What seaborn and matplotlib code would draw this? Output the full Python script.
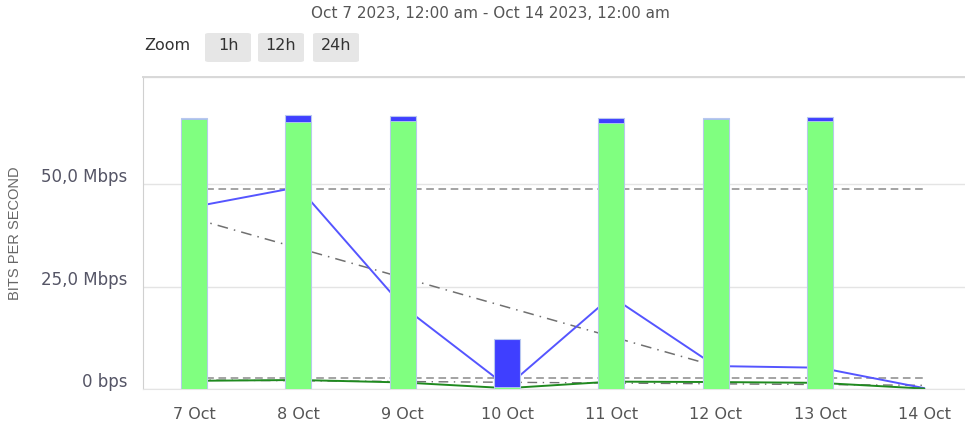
import numpy as np
import pandas as pd
import matplotlib
matplotlib.use('Agg')
import matplotlib.pyplot as plt
import seaborn as sns
from matplotlib.patches import FancyBboxPatch
from matplotlib.transforms import ScaledTranslation

# values in Mbps, one entry per day
days = ['7 Oct', '8 Oct', '9 Oct', '10 Oct', '11 Oct', '12 Oct', '13 Oct', '14 Oct']
bar_green = [66.0, 65.1, 65.4, 0.4, 64.9, 66.0, 65.4, np.nan]
bar_blue = [0.3, 1.7, 1.2, 11.8, 1.4, 0.1, 1.1, np.nan]
line_blue = [44.5, 49.3, 20.2, 0.6, 22.6, 5.6, 5.2, 0.2]
line_green = [2.0, 2.2, 1.6, 0.2, 1.8, 1.7, 1.5, 0.1]
pct_blue = [48.8, 48.8]
pct_green = [2.7, 2.7]
trend_blue_days = [0, 5]
trend_blue = [41.6, 5.6]
trend_green = [2.2, 0.9]
y_ticks = [0, 25, 50]
y_tick_labels = ['0 bps', '25,0 Mbps', '50,0 Mbps']

GREEN = '#80ff80'
BLUE = '#3f3fff'
LINE_BLUE = '#5555ff'
LINE_GREEN = '#1f8a1f'
EDGE = '#b8c8f0'

sns.set_style('white')
plt.rcParams['font.family'] = ['DejaVu Sans']

df = pd.DataFrame({'day': days, 'green': bar_green, 'blue': bar_blue})
df['total'] = df['green'] + df['blue']
pos = np.arange(len(days))
ends = pos[[0, -1]]

fig = plt.figure(figsize=(9.65, 4.26), dpi=100)
ax = fig.add_axes([143 / 965, 37 / 426, 822 / 965, 312 / 426])

# lines sit behind the bars
sns.lineplot(x=ends, y=pct_blue, ax=ax, color='#8a8a8a', lw=1.1, ls=(0, (5, 3)), zorder=1)
sns.lineplot(x=trend_blue_days, y=trend_blue, ax=ax, color='#707070', lw=1.1,
             ls=(0, (7, 4, 1, 4)), zorder=1)
sns.lineplot(x=pos, y=line_blue, ax=ax, color=LINE_BLUE, lw=1.4, zorder=2)
sns.lineplot(x=ends, y=pct_green, ax=ax, color='#8a8a8a', lw=1.1, ls=(0, (5, 3)), zorder=1)
sns.lineplot(x=ends, y=trend_green, ax=ax, color='#707070', lw=1.0, ls=(0, (7, 4, 1, 4)), zorder=1)
sns.lineplot(x=pos, y=line_green, ax=ax, color=LINE_GREEN, lw=1.4, zorder=2)

sns.barplot(data=df, x='day', y='total', order=days, color=BLUE, saturation=1,
            width=0.25, edgecolor=EDGE, linewidth=0.8, ax=ax, zorder=3)
sns.barplot(data=df, x='day', y='green', order=days, color=GREEN, saturation=1,
            width=0.25, edgecolor=EDGE, linewidth=0.6, ax=ax, zorder=4)

ax.set_xlim(-0.49, 7.39)
ax.set_ylim(0, 76.2)
ax.set_yticks(y_ticks + [76.2])
ax.set_yticklabels(y_tick_labels + [''])
ax.grid(axis='y', color='#e4e4e4', lw=1.0)
ax.grid(axis='x', visible=False)
ax.set_axisbelow(True)
ax.tick_params(axis='y', length=11.5, width=1.0, color='#d8d8d8', pad=0,
               labelsize=12, labelcolor='#555566')
ax.tick_params(axis='x', length=0, pad=13, labelsize=11.5, labelcolor='#555555')
shift = ScaledTranslation(0, 0.09, fig.dpi_scale_trans)
for lab in ax.get_yticklabels():
    lab.set_transform(lab.get_transform() + shift)

ax.spines['right'].set_visible(False)
ax.spines['left'].set_color('#d0d0d0')
ax.spines['top'].set_color('#d8d8d8')
ax.spines['top'].set_linewidth(1.4)
ax.spines['bottom'].set_color('#e4e4e4')

ax.set_xlabel('')
ax.set_ylabel('BITS PER SECOND', fontsize=10.5, color='#666666', family='Liberation Sans')
ax.yaxis.set_label_coords(-121 / 822, 0.5)

fig.text(490 / 965, 1 - 14 / 426, 'Oct 7 2023, 12:00 am - Oct 14 2023, 12:00 am',
         ha='center', va='center', fontsize=11, color='#555555')
fig.text(167 / 965, 1 - 45 / 426, 'Zoom', ha='center', va='center', fontsize=11.5,
         color='#333333')
for x0, lab in [(205, '1h'), (258, '12h'), (313, '24h')]:
    fig.patches.append(FancyBboxPatch((x0 / 965, 1 - 62 / 426), 46 / 965, 29 / 426,
                                      boxstyle='round,pad=0,rounding_size=0.004',
                                      transform=fig.transFigure, facecolor='#e6e6e6',
                                      edgecolor='none'))
    fig.text((x0 + 23) / 965, 1 - 45 / 426, lab, ha='center', va='center', fontsize=11.5,
             color='#333333')

fig.savefig('out.png', dpi=100)
